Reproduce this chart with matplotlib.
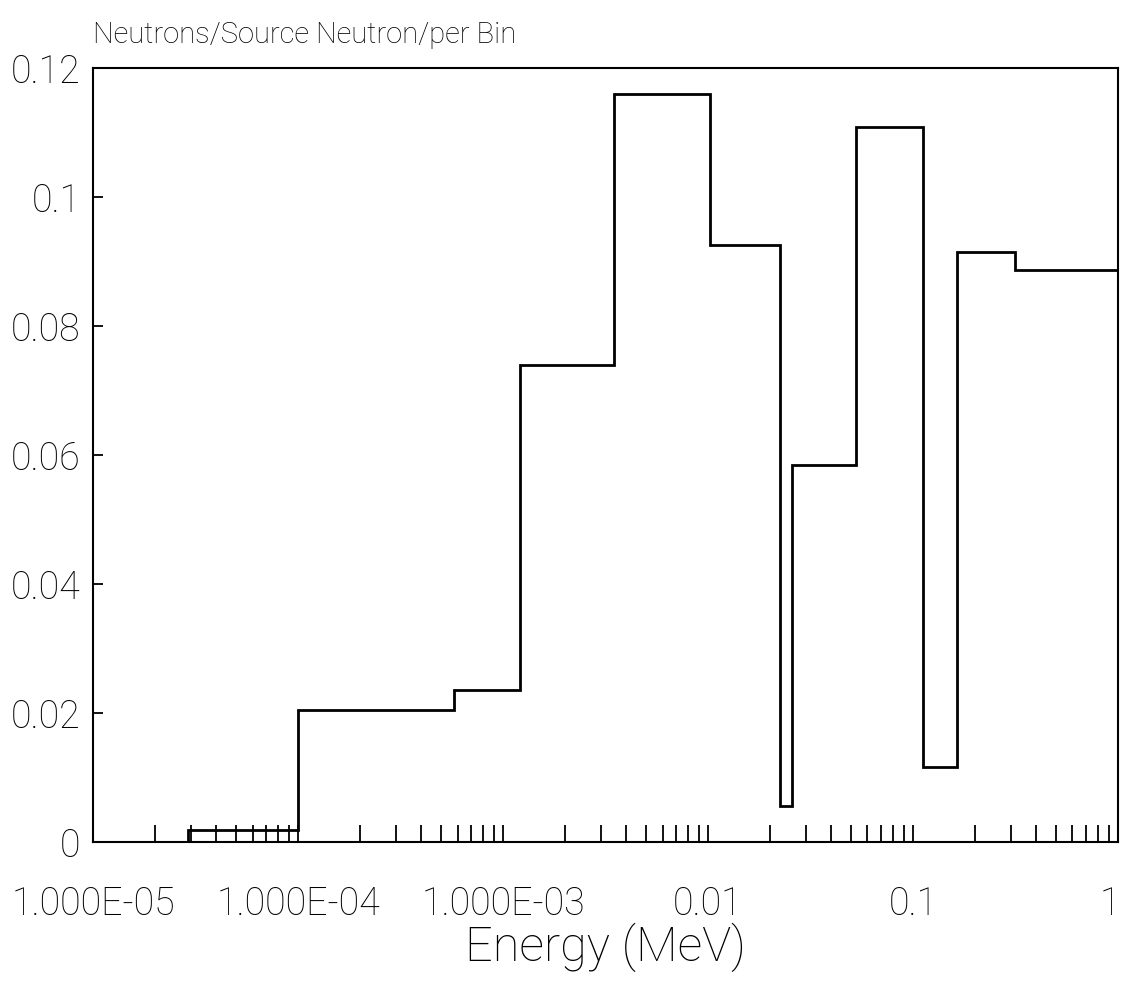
"""
Neutron spectrum per energy bin (step histogram, log energy axis)
"""
import matplotlib.pyplot as plt
from matplotlib.ticker import FixedLocator, FixedFormatter, NullFormatter
from matplotlib.transforms import ScaledTranslation

# bin edges (MeV) and tally per bin
edges = [1e-5, 2.9e-5, 1e-4, 5.8e-4, 1.21e-3, 3.48e-3, 1.02e-2,
         2.25e-2, 2.57e-2, 5.27e-2, 0.112, 0.164, 0.315, 1.0]
counts = [0.0, 0.0018, 0.0205, 0.0235, 0.074, 0.116, 0.0926,
          0.0056, 0.0585, 0.1108, 0.0117, 0.0914, 0.0887]

xticks = [1e-5, 1e-4, 1e-3, 1e-2, 1e-1, 1.0]
xticklabels = ['1.000E-05', '1.000E-04', '1.000E-03', '0.01', '0.1', '1']
yticks = [0, 0.02, 0.04, 0.06, 0.08, 0.1, 0.12]
yticklabels = ['0', '0.02', '0.04', '0.06', '0.08', '0.1', '0.12']

plt.rcParams['font.family'] = ['Roboto', 'DejaVu Sans']
plt.rcParams['font.weight'] = 'light'
plt.rcParams['axes.titleweight'] = 'light'
plt.rcParams['axes.labelweight'] = 'light'

fig = plt.figure(figsize=(11.22, 9.85), dpi=100)
ax = fig.add_axes([0.0829, 0.1452, 0.9135, 0.7858])

ax.stairs(counts, edges, color='black', linewidth=2.0)

ax.set_xscale('log')
ax.set_xlim(1e-5, 1.0)
ax.set_ylim(0, 0.12)

ax.xaxis.set_major_locator(FixedLocator(xticks))
ax.xaxis.set_major_formatter(FixedFormatter(xticklabels))
minor = [k * d for d in xticks[:-1] for k in range(2, 10)]
ax.xaxis.set_minor_locator(FixedLocator(minor))
ax.xaxis.set_minor_formatter(NullFormatter())
ax.set_yticks(yticks)
ax.set_yticklabels(yticklabels)

ax.tick_params(axis='x', which='both', direction='in', length=12, width=1.3,
               pad=31, labelsize=27, top=False)
ax.tick_params(axis='y', direction='in', length=7, width=1.3, pad=9,
               labelsize=27, right=False)

# keep the last x label inside the figure
last = ax.get_xticklabels()[-1]
last.set_transform(last.get_transform() + ScaledTranslation(-6 / 72, 0, fig.dpi_scale_trans))

for sp in ax.spines.values():
    sp.set_linewidth(1.5)

ax.set_xlabel('Energy (MeV)', fontsize=35, labelpad=0)
ax.set_title('Neutrons/Source Neutron/per Bin', loc='left', fontsize=21, pad=18)

plt.savefig('out.png', dpi=100)
plt.close()
